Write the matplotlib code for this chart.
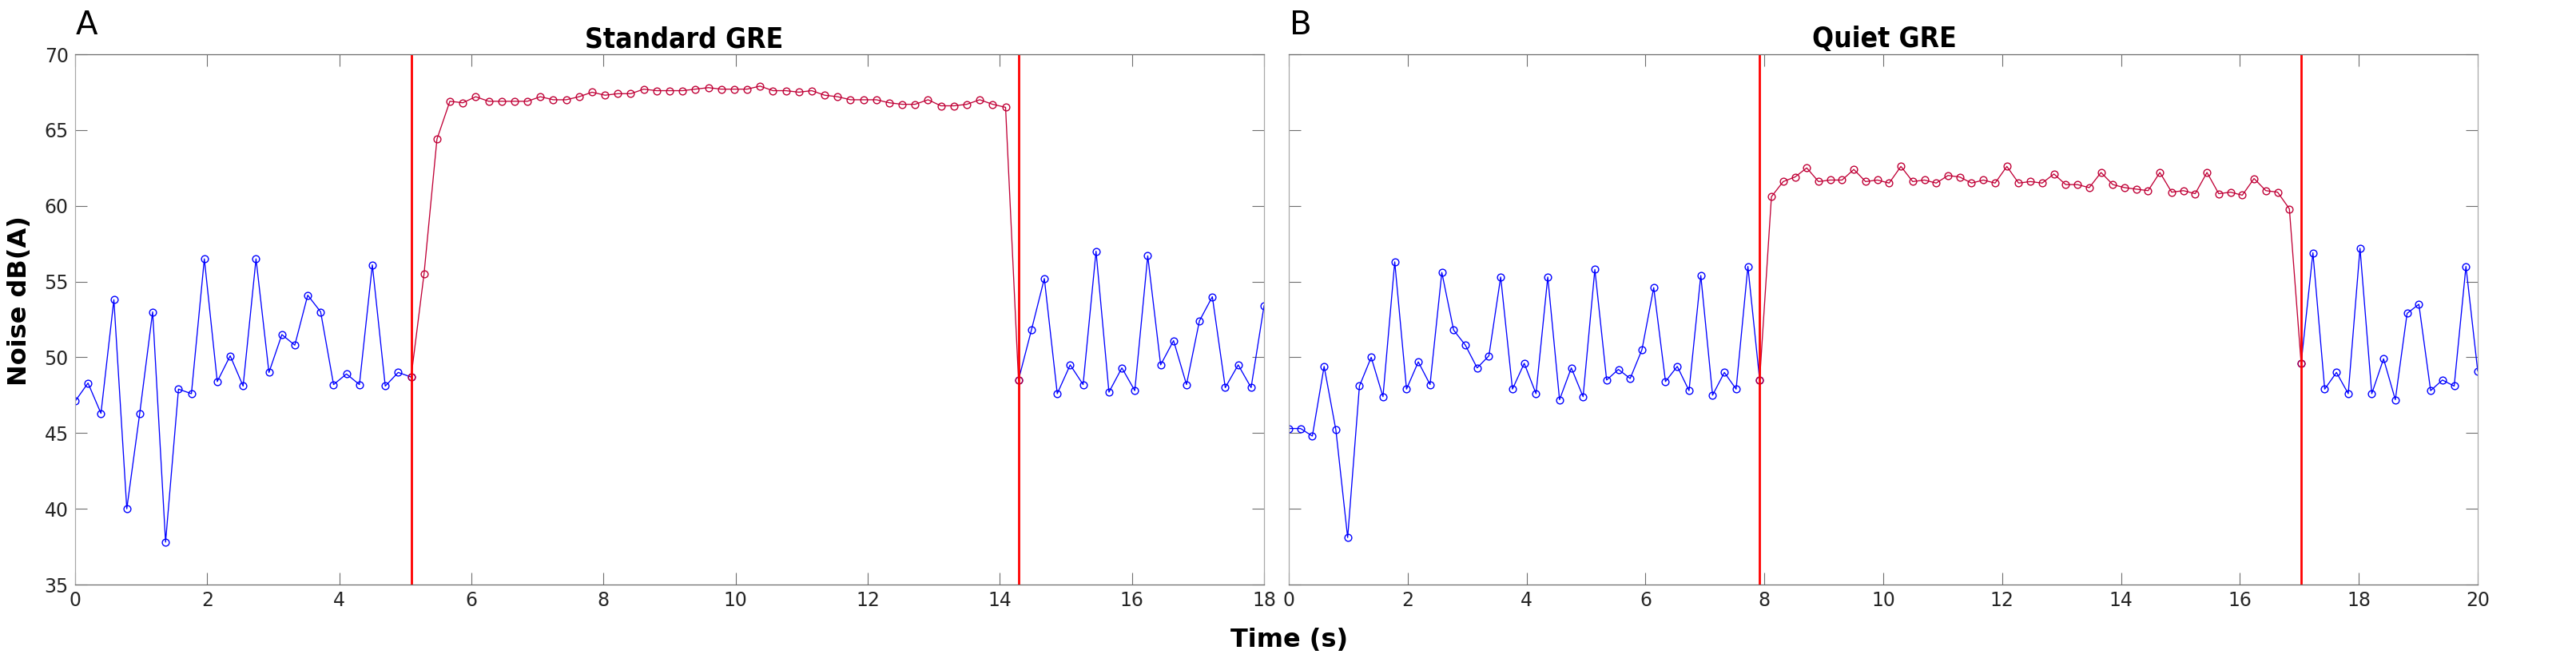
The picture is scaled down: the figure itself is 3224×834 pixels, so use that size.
import numpy as np
import matplotlib.pyplot as plt

# Noise level samples (dB(A))
std_noise = [47.1, 48.3, 46.3, 53.8, 40.0, 46.3, 53.0, 37.8, 47.9, 47.6,
             56.5, 48.4, 50.1, 48.1, 56.5, 49.0, 51.5, 50.8, 54.1, 53.0,
             48.2, 48.9, 48.2, 56.1, 48.1, 49.0, 48.7, 55.5, 64.4, 66.9,
             66.8, 67.2, 66.9, 66.9, 66.9, 66.9, 67.2, 67.0, 67.0, 67.2,
             67.5, 67.3, 67.4, 67.4, 67.7, 67.6, 67.6, 67.6, 67.7, 67.8,
             67.7, 67.7, 67.7, 67.9, 67.6, 67.6, 67.5, 67.6, 67.3, 67.2,
             67.0, 67.0, 67.0, 66.8, 66.7, 66.7, 67.0, 66.6, 66.6, 66.7,
             67.0, 66.7, 66.5, 48.5, 51.8, 55.2, 47.6, 49.5, 48.2, 57.0,
             47.7, 49.3, 47.8, 56.7, 49.5, 51.1, 48.2, 52.4, 54.0, 48.0,
             49.5, 48.0, 53.4]
quiet_noise = [45.3, 45.3, 44.8, 49.4, 45.2, 38.1, 48.1, 50.0, 47.4, 56.3,
               47.9, 49.7, 48.2, 55.6, 51.8, 50.8, 49.3, 50.1, 55.3, 47.9,
               49.6, 47.6, 55.3, 47.2, 49.3, 47.4, 55.8, 48.5, 49.2, 48.6,
               50.5, 54.6, 48.4, 49.4, 47.8, 55.4, 47.5, 49.0, 47.9, 56.0,
               48.5, 60.6, 61.6, 61.9, 62.5, 61.6, 61.7, 61.7, 62.4, 61.6,
               61.7, 61.5, 62.6, 61.6, 61.7, 61.5, 62.0, 61.9, 61.5, 61.7,
               61.5, 62.6, 61.5, 61.6, 61.5, 62.1, 61.4, 61.4, 61.2, 62.2,
               61.4, 61.2, 61.1, 61.0, 62.2, 60.9, 61.0, 60.8, 62.2, 60.8,
               60.9, 60.7, 61.8, 61.0, 60.9, 59.8, 49.6, 56.9, 47.9, 49.0,
               47.6, 57.2, 47.6, 49.9, 47.2, 52.9, 53.5, 47.8, 48.5, 48.1,
               56.0, 49.1]

durations = [18, 20]
scan_on = [26, 40]     # sample index where the sequence starts
scan_off = [73, 86]    # sample index where it stops
titles = ['Standard GRE', 'Quiet GRE']
letters = ['A', 'B']
series = [std_noise, quiet_noise]

blue = '#0000ff'
crimson = '#c00036'
tick_col = '#262626'

W, H = 3224, 834
fig = plt.figure(figsize=(W / 100, H / 100), dpi=100)

lefts = [94, 1613]
ax_w, top, bot = 1488, 68, 732
title_x = [856, 2358]

for k in range(2):
    ax = fig.add_axes([lefts[k] / W, 1 - bot / H, ax_w / W, (bot - top) / H])
    y = np.array(series[k])
    t = np.linspace(0, durations[k], len(y))
    i0, i1 = scan_on[k], scan_off[k]

    style = dict(marker='o', markersize=6.3, markerfacecolor='none',
                 markeredgewidth=1.0, linewidth=0.95)
    ax.plot(t[:i0 + 1], y[:i0 + 1], color=blue, **style)
    ax.plot(t[i1:], y[i1:], color=blue, **style)
    ax.plot(t[i0:i1 + 1], y[i0:i1 + 1], color=crimson, **style)
    ax.axvline(t[i0], color='#ff0000', linewidth=2.0)
    ax.axvline(t[i1], color='#ff0000', linewidth=2.0)

    ax.set_xlim(0, durations[k])
    ax.set_ylim(35, 70)
    ax.set_xticks(np.arange(0, durations[k] + 1, 2))
    ax.set_yticks(np.arange(35, 71, 5))
    ax.tick_params(direction='in', length=10.5, width=0.8, top=True, right=True,
                   labelsize=17, colors='#6e6e6e', labelcolor=tick_col, pad=6)
    if k == 1:
        ax.set_yticklabels([])
    for side in ['top', 'bottom']:
        ax.spines[side].set_color('#6e6e6e')
    for side in ['left', 'right']:
        ax.spines[side].set_color('#a8a8a8')
    for sp in ax.spines.values():
        sp.set_linewidth(0.9)

    fig.text(title_x[k] / W, 1 - 59 / H, titles[k], ha='center', va='baseline',
             fontsize=25.5, fontweight='bold', fontstretch='condensed')
    fig.text((lefts[k] + 1) / W, 1 - 43 / H, letters[k], fontsize=29,
             ha='left', va='baseline')

fig.text(25 / W, 1 - 377 / H, 'Noise dB(A)', rotation=90, fontsize=23,
         fontweight='bold', ha='center', va='center')
fig.text(1614 / W, 1 - 810 / H, 'Time (s)', fontsize=23, fontweight='bold',
         ha='center', va='baseline')

fig.savefig('out.png', dpi=100)
